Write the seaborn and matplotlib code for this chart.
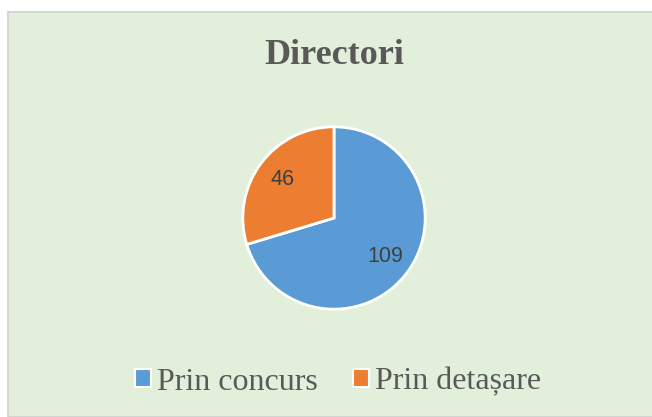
import numpy as np
import seaborn as sns
import matplotlib.pyplot as plt
from matplotlib.patches import Patch, Rectangle

categorii = ['Prin concurs', 'Prin detașare']
valori = [109, 46]
culori = ['#5B9BD5', '#ED7D31']
titlu = 'Directori'

sns.set_style('white')
plt.rcParams['font.family'] = ['Liberation Serif', 'DejaVu Serif']

fig = plt.figure(figsize=(6.52, 4.17), dpi=100)
fig.patch.set_facecolor('white')

# fundalul verde al graficului, cu chenar gri
fundal = Rectangle((8 / 652, 0), 1, 405 / 417, transform=fig.transFigure,
                   facecolor='#E2EFDA', edgecolor='#D0D0D0', linewidth=1.2, zorder=-1)
fig.patches.append(fundal)

ax = fig.add_axes([241 / 652, 106 / 417, 186 / 652, 186 / 417])
ax.set_facecolor('none')
ax.set_zorder(2)

wedges, texts, autotexts = ax.pie(
    valori, colors=sns.color_palette(culori), startangle=90, counterclock=False,
    radius=1, autopct=lambda p: f'{int(round(p * sum(valori) / 100))}',
    pctdistance=0.7,
    wedgeprops=dict(edgecolor='white', linewidth=2),
    textprops=dict(fontsize=15.5, color='#404040', family=['Liberation Sans', 'DejaVu Sans']))
ax.set_xlim(-1.02, 1.02)
ax.set_ylim(-1.02, 1.02)
ax.set_aspect('equal')
ax.axis('off')

fig.text(334 / 652, 1 - 55 / 417, titlu, ha='center', va='center',
         fontsize=26, fontweight='bold', color='#595959')

handles = [Patch(facecolor=c, edgecolor='white', linewidth=1.5) for c in culori]
leg = fig.legend(handles, categorii, loc='center', bbox_to_anchor=(338 / 652, 1 - 382 / 417),
                 ncol=2, frameon=False, fontsize=23, handlelength=0.5, handleheight=0.5,
                 handletextpad=0.2, columnspacing=1.1)
for t in leg.get_texts():
    t.set_color('#595959')

fig.savefig('out.png', dpi=100)
